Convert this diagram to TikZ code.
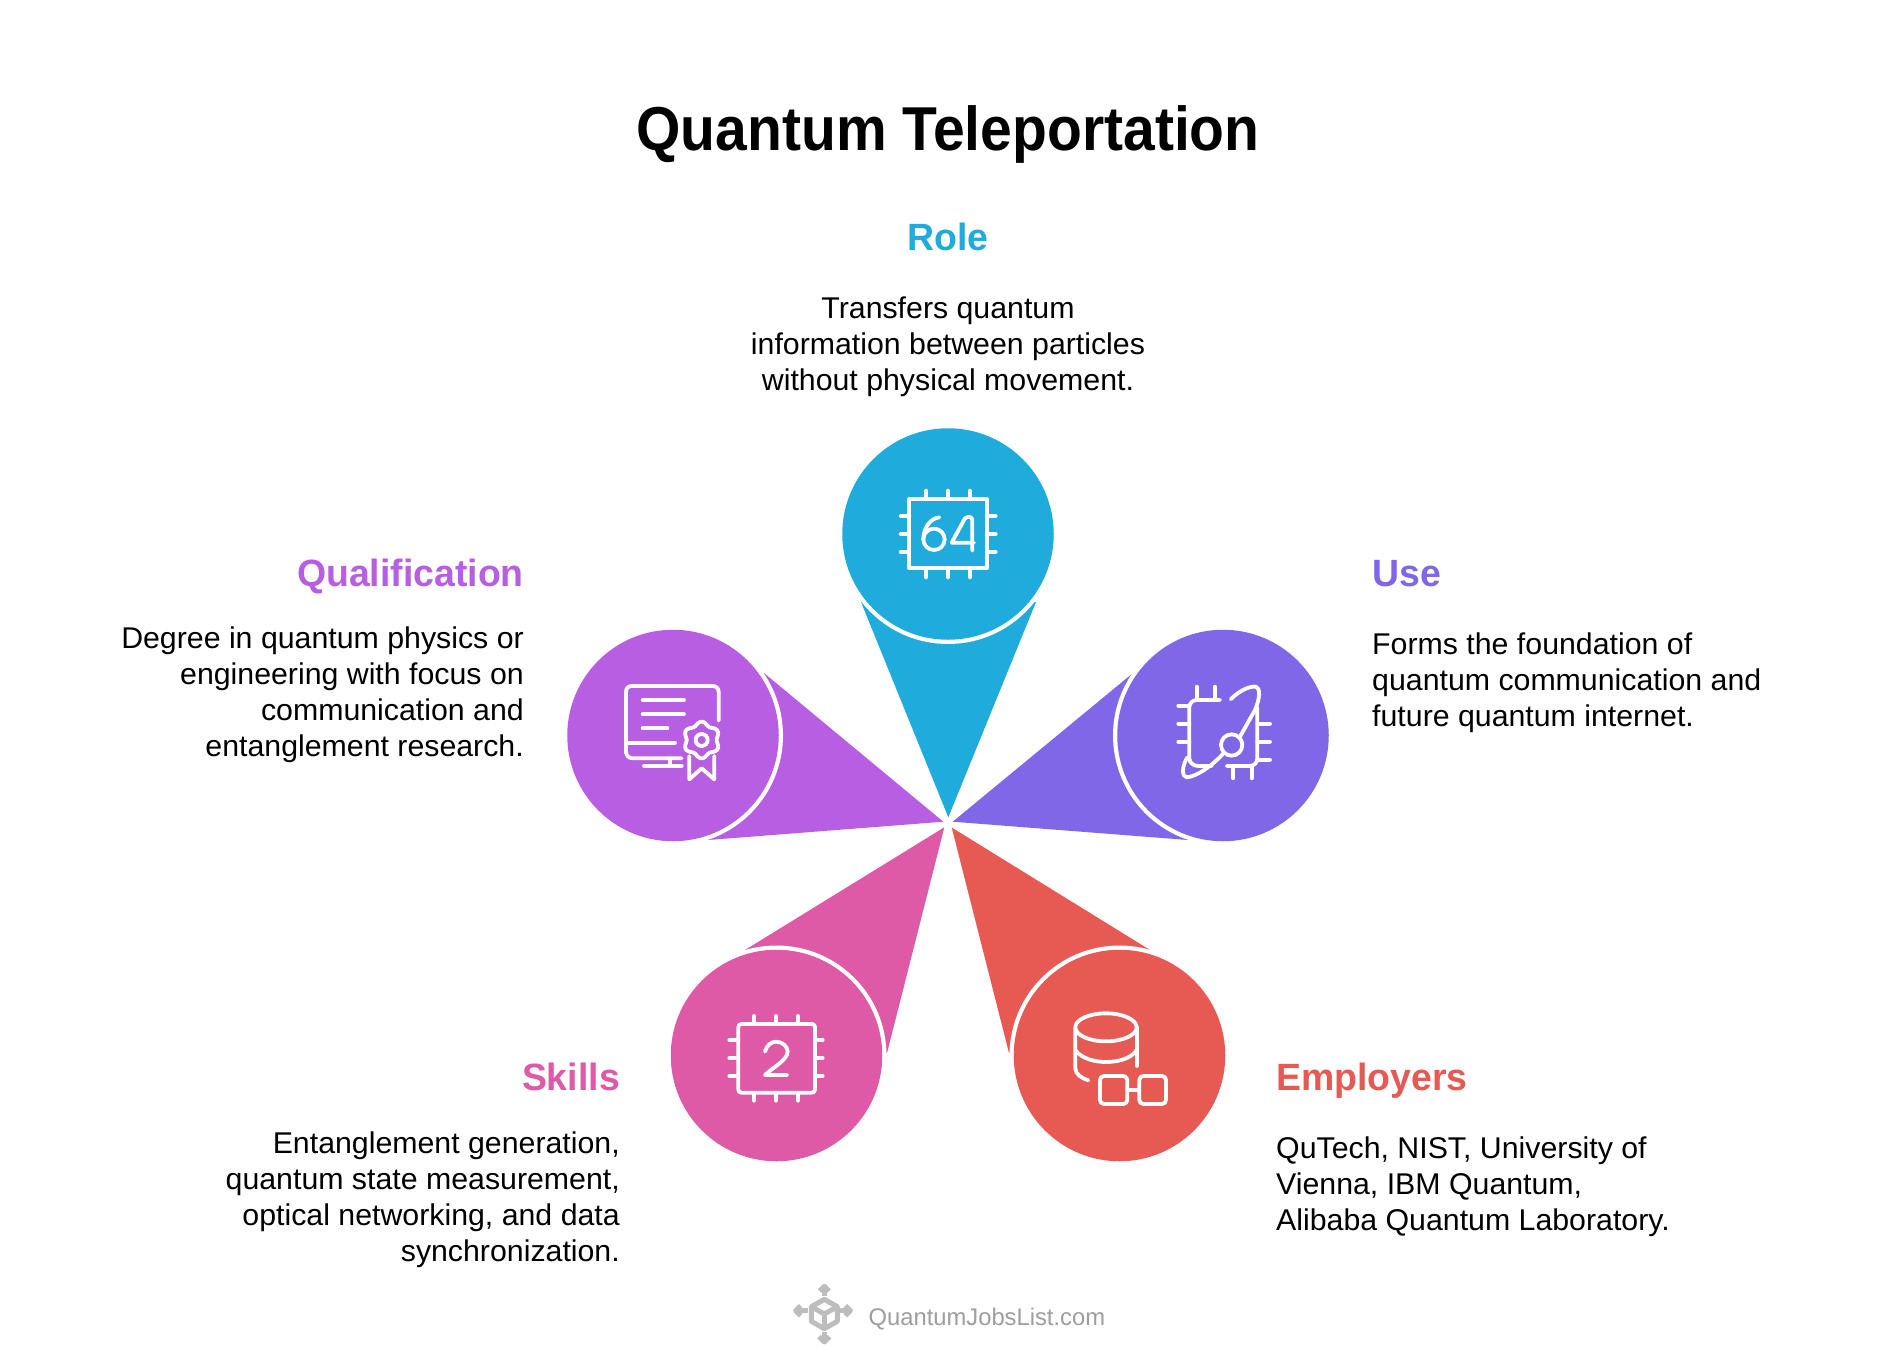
\documentclass[tikz,border=0pt]{standalone}
\usepackage{fontspec}
\setmainfont{Liberation Sans}
\newfontfamily\titlefam[FakeStretch=0.92]{Liberation Sans}
\newfontfamily\headfam[FakeStretch=0.985]{Liberation Sans}
\newfontfamily\bodyfam[FakeStretch=1.01]{Liberation Sans}
\newfontfamily\footfam[FakeStretch=0.99]{Liberation Sans}
\definecolor{cblue}{HTML}{1FABDC}
\definecolor{cviolet}{HTML}{7F67E8}
\definecolor{cpurple}{HTML}{B85EE3}
\definecolor{cpink}{HTML}{DE59A6}
\definecolor{cred}{HTML}{E75A54}
\definecolor{clogo}{HTML}{BDBDBD}
\definecolor{clogotext}{HTML}{9E9E9E}
\tikzset{
  wedgefill/.style={fill=#1,draw=none},
  ringc/.style={circle,fill=white,draw=none,minimum size=220pt,inner sep=0pt},
  disc/.style={circle,fill=#1,draw=none,minimum size=211.5pt,inner sep=0pt},
  ico/.style={draw=white,line width=3.8pt,line cap=round,line join=round},
  logoline/.style={draw=clogo,line width=5pt,line join=round},
  heading/.style={font=\headfam\fontsize{38}{38}\selectfont\bfseries,text=#1,inner sep=0pt},
  bodybase/.style={font=\bodyfam\fontsize{30}{36}\selectfont,text=black,inner sep=0pt,execute at begin node={\rule{0pt}{24pt}}},
  bodyl/.style={bodybase,align=left,anchor=north west},
  bodyr/.style={bodybase,align=right,anchor=north east},
  bodyc/.style={bodybase,align=center,anchor=north},
}
\begin{document}
\begin{tikzpicture}[x=1pt,y=-1pt]
\useasboundingbox (0,0) rectangle (1896,1349);
\fill[white] (0,0) rectangle (1896,1349);
% wedges
\fill[wedgefill=cblue] (948.3,817.3) -- (861,602) -- (1036,602) -- cycle;
\fill[wedgefill=cviolet] (952.7,821.7) -- (1133,673) -- (1188,840) -- cycle;
\fill[wedgefill=cpurple] (943.3,821.7) -- (764,673) -- (708,840) -- cycle;
\fill[wedgefill=cpink] (944.3,827.3) -- (745,950) -- (887,1053) -- cycle;
\fill[wedgefill=cred] (951.7,827.5) -- (1150,950) -- (1009,1053) -- cycle;
% discs
\node[ringc] at (948,534) {};
\node[disc=cblue] (role) at (948,534) {};
\node[ringc] at (1223,735.5) {};
\node[disc=cviolet] (use) at (1223,735.5) {};
\node[ringc] at (673,735.5) {};
\node[disc=cpurple] (qual) at (673,735.5) {};
\node[ringc] at (776.5,1055.5) {};
\node[disc=cpink] (skills) at (776.5,1055.5) {};
\node[ringc] at (1119.5,1055.5) {};
\node[disc=cred] (empl) at (1119.5,1055.5) {};
% chip 64
\begin{scope}[shift={(820,410)},x=0.3333pt,y=-0.3333pt]
\draw[ico] (268,268) rectangle (500,475);
\foreach \p in {318,384,450}{\draw[ico] (\p,242)--(\p,268); \draw[ico] (\p,475)--(\p,502);}
\foreach \p in {318,372,426}{\draw[ico] (242,\p)--(268,\p); \draw[ico] (500,\p)--(527,\p);}
\draw[ico] (358,322) .. controls (330,325) and (310,355) .. (310,388);
\draw[ico] (342,388) circle[radius=32];
\draw[ico] (457,422) -- (457,330) .. controls (457,320) and (445,318) .. (435,325) -- (395,398) -- (462,398);
\end{scope}
% chip 2
\begin{scope}[shift={(660,940)},x=0.3333pt,y=-0.3333pt]
\draw[ico,rounded corners=3pt] (235,252) rectangle (465,458);
\foreach \p in {282,348,414}{\draw[ico] (\p,228)--(\p,252); \draw[ico] (\p,458)--(\p,482);}
\foreach \p in {300,355,409}{\draw[ico] (208,\p)--(235,\p); \draw[ico] (465,\p)--(488,\p);}
\draw[ico] (315,335) .. controls (320,315) and (335,305) .. (348,305) .. controls (368,305) and (383,320) .. (383,335) .. controls (383,360) and (335,385) .. (315,405) -- (382,405);
\end{scope}
% use icon
\begin{scope}[shift={(1100,620)},x=0.3333pt,y=-0.3333pt]
\draw[ico] (360,240) -- (290,240) .. controls (278,240) and (268,250) .. (268,262) -- (268,415) .. controls (268,428) and (280,438) .. (295,438) -- (335,438);
\draw[ico] (472,262) -- (472,415) .. controls (472,428) and (462,438) .. (450,438) -- (380,438);
\foreach \p in {290,345}{\draw[ico] (\p,200)--(\p,240);}
\foreach \p in {399,455}{\draw[ico] (\p,438)--(\p,475);}
\foreach \p in {257,311,365}{\draw[ico] (235,\p)--(268,\p);}
\foreach \p in {311,365,419}{\draw[ico] (472,\p)--(510,\p);}
\draw[ico] (395,375) circle[radius=32];
\draw[ico] (392,238) .. controls (420,210) and (450,198) .. (468,200) .. controls (482,205) and (480,235) .. (465,270) -- (420,350);
\draw[ico] (372,398) .. controls (340,435) and (290,470) .. (260,472) .. controls (245,470) and (245,440) .. (262,412);
\end{scope}
% certificate
\begin{scope}[shift={(560,620)},x=0.3333pt,y=-0.3333pt]
\draw[ico] (476,302) -- (476,215) .. controls (476,205) and (468,198) .. (458,198) -- (215,198) .. controls (205,198) and (198,205) .. (198,215) -- (198,395) .. controls (198,406) and (206,415) .. (218,415) -- (365,415);
\draw[ico] (198,368) -- (345,368);
\draw[ico] (248,240) -- (372,240);
\draw[ico] (248,283) -- (372,283);
\draw[ico] (248,325) -- (322,325);
\draw[ico] (330,415) -- (330,438);
\draw[ico] (252,438) -- (365,438);
\draw[ico] (425,360) circle[radius=18];
\draw[ico] plot[domain=0:360,samples=121,smooth] ({425+(50+5*cos(6*\x))*sin(\x)},{360-(50+5*cos(6*\x))*cos(\x)}) -- cycle;
\draw[ico] (388,408) -- (388,478) -- (425,445) -- (463,478) -- (463,408);
\end{scope}
% database
\begin{scope}[shift={(1000,940)},x=0.3333pt,y=-0.3333pt]
\draw[ico] (318,262) ellipse[x radius=92,y radius=42];
\draw[ico] (226,262) -- (226,385) .. controls (226,402) and (245,415) .. (265,421);
\draw[ico] (410,262) -- (410,378);
\draw[ico] (226,330) .. controls (245,358) and (290,366) .. (318,366) .. controls (350,366) and (392,358) .. (410,330);
\draw[ico,rounded corners=4pt] (300,408) rectangle (382,492);
\draw[ico,rounded corners=4pt] (418,408) rectangle (498,492);
\draw[ico] (382,450) -- (418,450);
\end{scope}
% logo
\begin{scope}[shift={(785,1280)},x=0.3333pt,y=-0.3333pt]
\draw[logoline] (118,58) -- (157,80) -- (157,124) -- (118,146) -- (79,124) -- (79,80) -- cycle;
\draw[logoline] (79,80) -- (118,102) -- (157,80);
\draw[logoline] (118,102) -- (118,146);
\draw[logoline] (118,48) -- (118,20);
\draw[logoline] (104,33) -- (118,19) -- (132,33);
\draw[logoline] (118,156) -- (118,184);
\draw[logoline] (102,170) -- (118,186) -- (134,170);
\draw[logoline] (70,92) -- (34,92);
\draw[logoline] (47,77) -- (32,92) -- (47,107);
\draw[logoline] (166,92) -- (194,92);
\draw[logoline] (181,77) -- (196,92) -- (181,107);
\end{scope}
\node[inner sep=0pt,anchor=base west,text=clogotext,font=\footfam\fontsize{24}{24}\selectfont] (logotext) at (868.5,1325) {QuantumJobsList.com};
% texts
\node[font=\titlefam\fontsize{62}{62}\selectfont\bfseries,inner sep=0pt,anchor=base] (title) at (948,150) {Quantum Teleportation};
\node[heading=cblue,anchor=base] (h1) at (948,250) {Role};
\node[bodyc] (b1) at (948,297) {Transfers quantum\\information between particles\\without physical movement.};
\node[heading=cviolet,anchor=base west] (h2) at (1372,586) {Use};
\node[bodyl] (b2) at (1372,632.5) {Forms the foundation of\\quantum communication and\\future quantum internet.};
\node[heading=cpurple,anchor=base east] (h3) at (524,586) {Qualification};
\node[bodyr] (b3) at (524,627) {Degree in quantum physics or\\engineering with focus on\\communication and\\entanglement research.};
\node[heading=cpink,anchor=base east] (h4) at (620,1090) {Skills};
\node[bodyr] (b4) at (620,1132) {Entanglement generation,\\quantum state measurement,\\optical networking, and data\\synchronization.};
\node[heading=cred,anchor=base west] (h5) at (1276,1090) {Employers};
\node[bodyl] (b5) at (1276,1137) {QuTech, NIST, University of\\Vienna, IBM Quantum,\\Alibaba Quantum Laboratory.};
\end{tikzpicture}
\end{document}
